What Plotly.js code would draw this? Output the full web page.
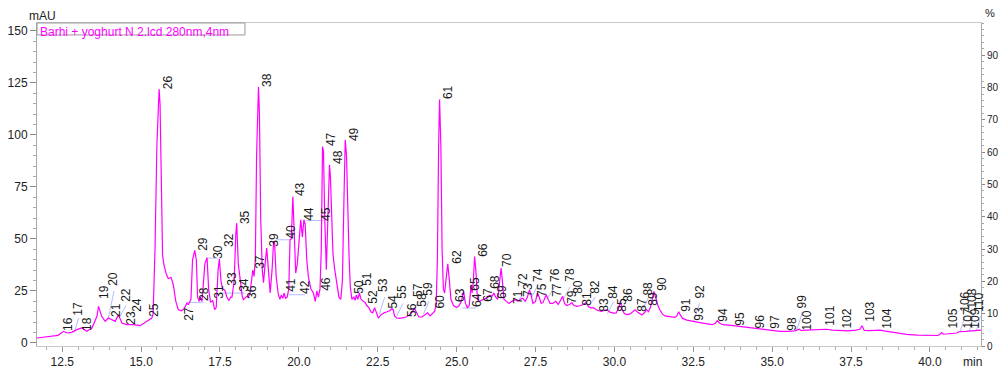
<!DOCTYPE html>
<html>
<head>
<meta charset="utf-8">
<script src="https://cdn.plot.ly/plotly-3.0.1.min.js"></script>
<style>
html,body{margin:0;padding:0;background:#fff;}
#chart{width:1001px;height:372px;}
</style>
</head>
<body>
<div id="chart"></div>
<script>
// Chromatogram trace (retention time, min) and absorbance (mAU)
var timeMin = [
11.70,12.00,12.12,12.30,12.38,12.54,12.65,12.80,12.96,13.12,13.28,13.44,13.60,13.65,13.75,13.86,13.96,14.07,14.18,14.28,14.39,14.55,14.76,14.97,15.18,15.34,
15.38,15.44,15.50,15.55,15.57,15.60,15.64,15.68,15.73,15.80,15.86,15.95,16.02,16.10,16.18,16.28,16.36,16.45,16.50,
16.58,16.63,16.70,16.75,16.79,16.84,16.88,16.93,16.97,17.02,17.09,17.14,17.20,17.27,17.33,17.38,17.44,17.48,17.53,17.58,17.65,17.72,17.78,17.84,17.88,17.95,18.00,18.03,
18.08,18.14,18.20,18.24,18.30,18.35,18.40,18.45,18.50,18.54,18.58,18.62,18.66,18.70,18.72,18.75,18.79,18.84,18.88,18.93,18.98,19.03,19.09,19.15,19.20,19.23,19.28,19.35,
19.40,19.44,19.49,19.53,19.58,19.63,19.68,19.72,19.76,19.81,19.85,19.90,19.95,20.02,20.06,20.11,20.16,20.20,20.25,20.30,20.38,20.46,20.52,20.57,20.62,20.67,20.71,20.75,20.78,
20.82,20.87,20.92,20.97,21.00,21.04,21.08,21.13,21.20,21.27,21.33,21.38,21.43,21.47,21.51,21.55,21.59,21.63,21.68,21.74,21.78,21.82,21.87,21.92,21.97,22.04,22.10,22.15,
22.22,22.28,22.34,22.40,22.45,22.52,22.60,22.70,22.80,22.88,22.95,22.99,23.03,23.10,23.20,23.30,23.40,23.50,23.60,23.66,23.72,23.80,23.90,24.00,24.08,24.16,24.24,24.30,
24.35,24.39,24.43,24.46,24.50,24.54,24.58,24.62,24.66,24.72,24.77,24.82,24.90,25.00,25.08,25.15,25.22,25.28,25.34,25.40,25.46,25.49,25.53,25.57,25.61,25.66,25.72,25.80,
25.86,25.93,26.00,26.06,26.12,26.18,26.24,26.30,26.36,26.41,26.45,26.50,26.58,26.66,26.75,26.85,26.95,27.02,27.10,27.17,27.24,27.31,27.36,27.42,27.50,27.56,27.62,27.68,
27.74,27.84,27.90,27.96,28.05,28.14,28.22,28.30,28.36,28.42,28.49,28.58,28.65,28.72,28.82,28.92,29.02,29.10,29.18,29.26,29.34,29.42,29.50,29.58,29.66,29.76,29.86,29.97,
30.06,30.14,30.19,30.25,30.32,30.40,30.50,30.58,30.65,30.72,30.80,30.87,30.95,31.02,31.08,31.14,31.20,31.25,31.31,31.38,31.44,31.52,31.60,31.68,31.80,31.92,31.98,32.04,
32.09,32.16,32.30,32.50,32.71,32.90,33.10,33.20,33.26,33.34,33.44,33.70,33.98,34.30,34.60,34.83,35.05,35.25,35.50,35.72,35.86,35.92,36.10,36.40,36.73,36.90,37.15,37.41,
37.65,37.78,37.85,37.92,38.10,38.42,38.55,38.80,39.00,39.26,39.60,40.00,40.25,40.32,40.37,40.43,40.55,40.75,40.85,40.92,41.00,41.15,41.30,41.45,41.62
];
var absMAU = [
2.4,2.8,3.0,3.5,3.8,5.6,4.8,5.1,6.4,7.2,5.6,7.2,12.8,17.6,12.8,10.4,12.0,11.2,10.4,13.6,9.6,8.8,8.8,8.3,10.4,12.0,
14,45,95,120,122,115,70,42,37,33,31,31.5,28,20,16,15.5,16.5,19,18.5,
21,40,44.5,40,22,20,22,20,30,38,41,26,19.5,20.5,16,17,35,40.5,30,26,25.5,22,20.5,22,22,30,52,57.6,
38,30,23,20.8,21.5,22.4,22,24,30,35,32,40,90,121,123.2,110,60,35,29,38,45.6,36,24,35,49,48,32,23.2,
21,23,21.5,24,21.5,22,26,49.6,50,70.4,50,33.6,38,55,59.2,51,59.2,57,40,32,26,24,20,25,22,26,45,94.4,92,
60,35.2,60,85.6,80,55,43,36,28,22,21,30,70,97.6,90,60,42,27,21,22,20.5,23,21,24,21,20,19.5,18,
17,15,14.5,17,15,12,13.5,14.5,15,15.5,16.5,16,13,12,11.8,12,12.5,13.5,15,16.8,15,12.5,12.5,13.5,14.5,13,14.5,15.2,
18,40,95,117,95,45,26,24,30,38,30,21,18,17,18,20,24.8,19,17,18,28,24,30,41.6,35,21,20,20.5,
21,21.5,22,23,22.5,24,22,21,28,36,30,21,20,19,20,20.8,20,21,21.5,20,22,25.5,23,19,20,24,22,19,
19.5,23.2,21,19,19,20,18.5,21,22.4,19,18,18.5,19.4,18,17.6,18,18.5,19.4,17.5,16.8,17,16,15.5,15.2,15.5,16,14.8,14.4,
14.5,17,20,16,14,13.6,14,15,16,15,14,13.5,14.5,16,15,17,21,24.8,22,18,16,14,13,12.8,12.5,12.3,13,15,
13.5,11.8,11,10.3,9.8,9.3,8.8,9.5,10.7,9.5,8.8,8.5,8.0,7.2,6.8,6.4,6.0,5.6,5.6,5.8,6.6,6.0,6.2,6.3,6.6,6.2,6.0,5.8,
6.2,6.6,8.3,6.0,5.9,6.2,5.8,5.2,4.6,4.1,3.8,3.6,3.6,4.2,5.0,4.2,4.3,4.5,4.8,5.4,5.4,5.6,5.8,6.0,6.2
];

// Peak numbers with label position (label centre time, label base in mAU)
var peakNames = ["16","17","18","19","20","21","22","23","24","25","26","27","28","29","30","31","32","33","34","35","36","37","38","39","40",
"41","42","43","44","45","46","47","48","49","50","51","52","53","54","55","56","57","58","59","60","61","62","63","64","65","66","67","68","69","70",
"71","72","73","74","75","76","77","78","79","80","81","82","83","84","85","86","87","88","89","90","91","92","93","94","95","96","97","98","99","100",
"101","102","103","104","105","106","107","108","109","110"];
var peakLabelTime = [12.69,13.00,13.29,13.80,14.11,14.21,14.52,14.68,14.87,15.41,15.86,16.52,17.00,16.96,17.44,17.47,17.76,17.88,18.26,18.30,18.52,18.77,18.99,19.21,19.75,
19.75,20.20,20.04,20.32,20.86,20.86,21.02,21.24,21.75,21.91,22.16,22.35,22.67,22.98,23.27,23.59,23.78,23.90,24.09,24.47,24.73,25.01,25.11,25.65,25.58,25.84,25.99,26.22,26.44,26.60,
26.95,27.10,27.26,27.58,27.71,28.12,28.18,28.59,28.66,28.85,29.13,29.39,29.67,29.96,30.24,30.43,30.87,31.06,31.22,31.51,32.27,32.71,32.68,33.44,33.98,34.61,35.09,35.63,35.94,36.10,
36.83,37.37,38.10,38.64,40.73,41.11,41.20,41.33,41.43,41.58];
var peakLabelMAU = [5.4,12.6,5.4,20.8,27,12.1,19.3,8.3,14.5,12.1,121.6,10.2,19.8,43.8,40,20.8,45.8,27,24.1,56.8,20.8,35.2,122.6,45.8,49.6,
24.1,23.2,70.2,58.2,58.2,24.6,94.2,85.6,96.6,23.2,27,18.4,24.1,16,20.8,12.1,21.7,16.9,22.2,16,116.8,37.6,19.3,16.9,24.6,41,19.3,25.6,20.8,36.1,
18.4,26.5,21.7,28.9,21.7,28.9,21.7,28.9,18.4,23.2,17.4,23.2,14.5,20.8,14.5,19.3,14.5,22.2,17.4,24.6,14.5,20.8,10.2,9.7,7.8,6.4,6.4,5.4,16,5.4,
7.8,6.4,9.7,6.4,6.4,14.5,6.4,16,6.4,14.5];

// Integration baselines (light blue), segments separated by null
var baseTime = [12.88,13.02,null,13.95,14.14,null,14.30,14.52,null,16.42,16.98,null,17.06,17.44,null,17.48,18.30,null,19.30,19.72,null,19.68,20.20,null,20.24,20.78,null,
21.80,21.95,null,22.55,22.72,null,23.10,23.30,null,23.60,23.80,null,23.95,24.12,null,25.18,25.62,null,26.95,27.15,null,27.38,27.58,null,27.86,28.10,null,28.38,28.60,null,
29.20,29.40,null,29.78,29.98,null,30.90,31.08,null,32.50,32.70,null,35.78,35.96,null,40.95,41.12,null,41.25,41.38,null,41.48,41.60];
var baseMAU = [5,12,null,11,25,null,12,18,null,19.5,19.5,null,40.8,40.8,null,24,24,null,49.6,49.6,null,23.2,23.2,null,58.9,58.9,null,
21,26,null,14,22,null,13,19,null,15,20,null,14,20,null,16.8,16.8,null,20,25,null,22,28,null,21,27,null,21,27,null,
18,22,null,14,20,null,16,22,null,10,19,null,6,15,null,5,13,null,5.5,14,null,6,13];

var percentTicks = [0,10,20,30,40,50,60,70,80,90];
var legendText = "Barhi + yoghurt N 2.lcd 280nm,4nm";

var FONT = "Liberation Sans, Arial, Helvetica, sans-serif";

var traces = [
  {x: baseTime, y: baseMAU, type: 'scatter', mode: 'lines', line: {color: '#b4bcff', width: 1},
   hoverinfo: 'skip', showlegend: false, connectgaps: false},
  {x: timeMin, y: absMAU, type: 'scatter', mode: 'lines', line: {color: '#ff00ff', width: 1.2},
   name: legendText, showlegend: false},
  {x: [], y: [], yaxis: 'y2', type: 'scatter', mode: 'lines', showlegend: false, hoverinfo: 'skip'}
];

var annotations = [];
for (var i = 0; i < peakNames.length; i++) {
  annotations.push({
    x: peakLabelTime[i], y: peakLabelMAU[i], xref: 'x', yref: 'y',
    text: peakNames[i], textangle: -90, showarrow: false,
    xanchor: 'center', yanchor: 'bottom', borderpad: 0,
    font: {family: FONT, size: 12, color: '#1a1a1a'}
  });
}
annotations.push({x: 0.002, y: 0.998, xref: 'paper', yref: 'paper', xanchor: 'left', yanchor: 'top',
  text: legendText, showarrow: false, font: {family: FONT, size: 12, color: '#ff00ff'}, borderpad: 0});
annotations.push({x: 0.006, y: 1.022, xref: 'paper', yref: 'paper', xanchor: 'center', yanchor: 'middle',
  text: 'mAU', showarrow: false, font: {family: FONT, size: 12, color: '#222'}});
annotations.push({x: 1.01, y: 1.031, xref: 'paper', yref: 'paper', xanchor: 'center', yanchor: 'middle',
  text: '%', showarrow: false, font: {family: FONT, size: 11, color: '#222'}});
annotations.push({x: 0.9905, y: -0.05, xref: 'paper', yref: 'paper', xanchor: 'center', yanchor: 'middle',
  text: 'min', showarrow: false, font: {family: FONT, size: 12, color: '#222'}});

var layout = {
  width: 1001, height: 372,
  margin: {l: 37, r: 20, t: 23, b: 26, pad: 0},
  paper_bgcolor: '#fff', plot_bgcolor: '#fff',
  showlegend: false,
  font: {family: FONT, size: 12, color: '#222'},
  xaxis: {
    range: [11.7, 41.62], tick0: 12.5, dtick: 2.5, tickformat: '.1f',
    ticks: 'outside', ticklen: 5, tickcolor: '#999', tickwidth: 1,
    minor: {dtick: 0.5, ticks: 'outside', ticklen: 3, tickcolor: '#aaa'},
    showline: true, linecolor: '#c8c8c8', linewidth: 1, mirror: true,
    showgrid: false, zeroline: false,
    tickfont: {family: FONT, size: 12, color: '#222'}
  },
  yaxis: {
    range: [-1.45, 153.8], tick0: 0, dtick: 25,
    ticks: 'outside', ticklen: 6, tickcolor: '#888',
    minor: {dtick: 5, ticks: 'outside', ticklen: 3, tickcolor: '#aaa'},
    showline: true, linecolor: '#aaa', linewidth: 1,
    showgrid: false, zeroline: false,
    tickfont: {family: FONT, size: 12, color: '#222'}
  },
  yaxis2: {
    overlaying: 'y', side: 'right', range: [0, 100],
    tickvals: percentTicks,
    ticks: 'outside', ticklen: 3, tickcolor: '#888',
    minor: {dtick: 2, ticks: 'outside', ticklen: 2, tickcolor: '#aaa'},
    showline: true, linecolor: '#aaa', linewidth: 1,
    showgrid: false, zeroline: false,
    tickfont: {family: FONT, size: 10, color: '#222'}
  },
  shapes: [
    {type: 'rect', xref: 'paper', yref: 'paper', x0: 0, x1: 0.2203, y0: 0.963, y1: 1,
     line: {color: '#999', width: 1}, fillcolor: 'rgba(0,0,0,0)'}
  ],
  annotations: annotations
};

Plotly.newPlot('chart', traces, layout, {staticPlot: true, displayModeBar: false});
</script>
</body>
</html>
